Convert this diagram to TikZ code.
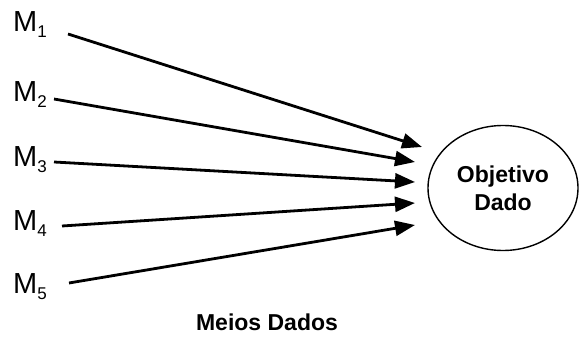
\documentclass[tikz,border=0pt]{standalone}
\usepackage{fontspec}
\setmainfont{Liberation Sans}
\usetikzlibrary{arrows.meta,shapes.geometric}
\newcommand{\msub}[1]{M\raisebox{-6pt}{\fontsize{17}{17}\selectfont #1}}
\begin{document}
\begin{tikzpicture}[x=1pt,y=-1pt,
  mlabel/.style={anchor=base west,inner sep=0pt,font=\fontsize{29}{29}\selectfont},
  conn/.style={line width=2.8pt,-{Triangle[length=20pt,width=15pt]}},
  goal/.style={ellipse,draw,line width=1.4pt,minimum width=150pt,minimum height=125pt,inner sep=0pt,align=center,font=\fontsize{23}{28}\selectfont\bfseries},
  caption/.style={font=\fontsize{23}{23}\selectfont\bfseries,inner sep=0pt}]
\useasboundingbox (0,0) rectangle (581,342);
\node[mlabel] (m1) at (13,32) {\msub{1}};
\node[mlabel] (m2) at (13,102) {\msub{2}};
\node[mlabel] (m3) at (13,166) {\msub{3}};
\node[mlabel] (m4) at (13,230) {\msub{4}};
\node[mlabel] (m5) at (13,293) {\msub{5}};
\coordinate (s1) at (68,34);
\coordinate (s2) at (54,99);
\coordinate (s3) at (54,162);
\coordinate (s4) at (62,226);
\coordinate (s5) at (69,283);
\coordinate (t1) at (422,147);
\coordinate (t2) at (415,162);
\coordinate (t3) at (415,182);
\coordinate (t4) at (415,203);
\coordinate (t5) at (415,225);
\node[goal] (obj) at (503,188) {Objetivo\\Dado};
\foreach \i in {1,...,5} { \draw[conn] (s\i) -- (t\i); }
\node[caption] (cap) at (267,322) {Meios Dados};
\end{tikzpicture}
\end{document}
